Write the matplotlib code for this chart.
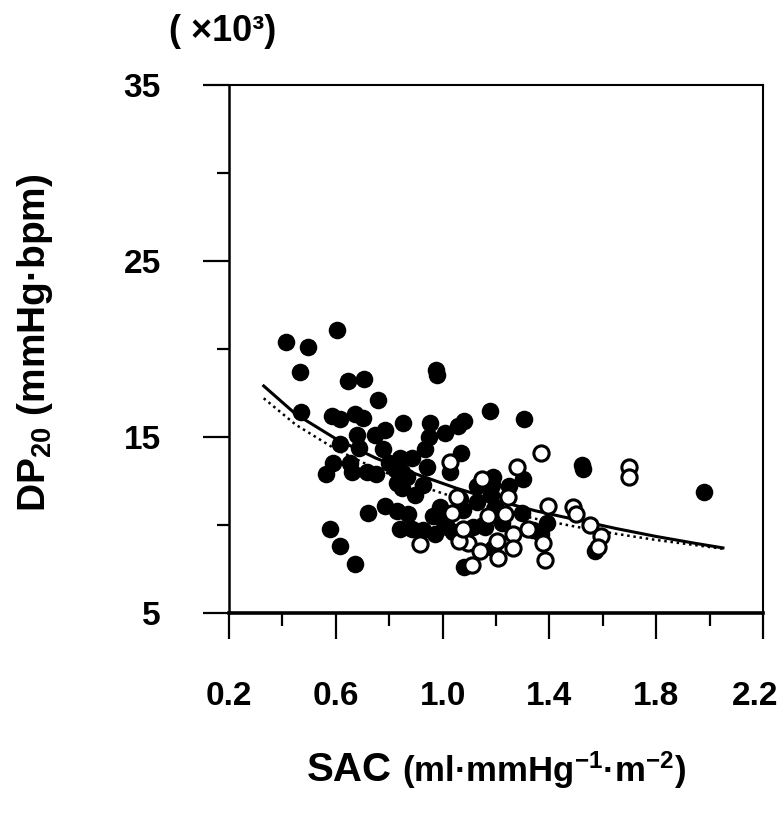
import matplotlib
matplotlib.use('Agg')
from matplotlib import pyplot as plt
from matplotlib import transforms
import numpy as np

# filled circles
sac_filled = [0.413, 0.496, 0.604, 0.466, 0.646, 0.706, 0.975, 0.98, 0.758, 1.178,
              0.47, 0.586, 0.616, 0.672, 0.70, 0.852, 0.953, 0.784, 0.747, 1.009,
              1.058, 1.08, 0.679, 0.949, 0.616, 0.687, 0.777, 0.934, 0.84, 0.885,
              1.069, 0.59, 0.563, 0.653, 0.66, 0.717, 0.75, 0.80, 0.848, 0.866,
              0.94, 1.028, 0.83, 0.848, 0.897, 0.926, 0.72, 0.784, 0.83, 0.87,
              0.84, 0.885, 0.926, 0.964, 0.99, 1.016, 0.578, 0.616, 0.672, 1.08,
              1.159, 1.189, 1.305, 1.30, 1.19, 1.185, 1.13, 1.25, 1.065, 1.13,
              1.18, 1.077, 1.195, 1.297, 1.222, 1.15, 1.34, 1.39, 1.37, 1.114,
              1.04, 1.522, 1.525, 1.98, 1.571, 0.822, 1.0, 0.97]
dp_filled = [20.4, 20.1, 21.1, 18.7, 18.2, 18.3, 18.8, 18.5, 17.1, 16.5,
             16.4, 16.2, 16.0, 16.3, 16.1, 15.8, 15.8, 15.4, 15.1, 15.2,
             15.6, 15.9, 15.1, 15.0, 14.6, 14.4, 14.3, 14.3, 13.8, 13.8,
             14.1, 13.5, 12.9, 13.5, 13.0, 13.0, 12.9, 13.5, 13.0, 12.7,
             13.3, 13.0, 12.4, 12.1, 11.7, 12.3, 10.7, 11.1, 10.8, 10.6,
             9.8, 9.8, 9.7, 10.5, 11.0, 9.9, 9.8, 8.8, 7.8, 7.6,
             9.9, 8.7, 16.0, 12.6, 12.7, 12.3, 12.2, 12.2, 11.5, 11.3,
             11.7, 10.85, 11.0, 10.7, 10.1, 10.0, 9.7, 10.1, 9.5, 9.9,
             9.6, 13.4, 13.2, 11.9, 8.5, 13.2, 10.3, 9.5]

# open circles
sac_open = [1.028, 1.147, 1.37, 1.28, 1.245, 1.054, 1.035, 1.395, 1.49, 1.50,
            1.235, 1.264, 1.32, 1.08, 1.096, 1.06, 1.376, 1.204, 1.264, 1.14,
            1.207, 1.384, 1.11, 0.915, 1.552, 1.593, 1.582, 1.70, 1.70, 1.17,
            1.076]
dp_open = [13.6, 12.6, 14.1, 13.3, 11.6, 11.6, 10.7, 11.1, 11.0, 10.6,
           10.6, 9.5, 9.8, 9.6, 9.0, 9.1, 9.0, 9.1, 8.7, 8.5,
           8.1, 8.0, 7.7, 8.9, 10.0, 9.4, 8.75, 13.3, 12.7, 10.5,
           9.8]

# fitted curves
fit_x = [0.33, 0.45, 0.6, 0.75, 0.9, 1.05, 1.2, 1.35, 1.5, 1.65, 1.8, 1.95, 2.05]
fit_solid = [17.9, 16.3, 14.9, 13.8, 12.9, 12.1, 11.4, 10.8, 10.3, 9.8, 9.35, 8.95, 8.7]
fit_dotted = [17.2, 15.7, 14.3, 13.2, 12.3, 11.55, 10.9, 10.35, 9.9, 9.5, 9.15, 8.85, 8.65]

xticks = [0.2, 0.6, 1.0, 1.4, 1.8, 2.2]
xminor = [0.4, 0.8, 1.2, 1.6, 2.0]
yticks = [5, 15, 25, 35]
yminor = [10, 20, 30]

plt.rcParams['font.family'] = ['Liberation Sans', 'DejaVu Sans']
plt.rcParams['font.weight'] = 'bold'
plt.rcParams['mathtext.fontset'] = 'custom'
plt.rcParams['mathtext.rm'] = 'Liberation Sans:bold'
plt.rcParams['mathtext.bf'] = 'Liberation Sans:bold'
plt.rcParams['mathtext.default'] = 'bf'

fig = plt.figure(figsize=(7.84, 8.14), dpi=100)
ax = fig.add_axes([0.2921, 0.2469, 0.6811, 0.6487])

ax.plot(fit_x, fit_dotted, color='k', linestyle=(0, (1, 1.5)), linewidth=1.8, zorder=2)
ax.plot(fit_x, fit_solid, color='k', linewidth=2.2, zorder=2)
ax.scatter(sac_filled, dp_filled, s=160, c='k', edgecolors='k', linewidths=0, zorder=3)
ax.scatter(sac_open, dp_open, s=120, facecolors='white', edgecolors='k', linewidths=2.2, zorder=4)

ax.set_xlim(0.2, 2.2)
ax.set_ylim(5, 35)
ax.set_xticks(xticks)
ax.set_xticks(xminor, minor=True)
ax.set_yticks(yticks)
ax.set_yticks(yminor, minor=True)
ax.set_xticklabels(['0.2', '0.6', '1.0', '1.4', '1.8', '2.2'])
ax.tick_params(axis='both', which='major', direction='out', length=19, width=1.6,
               labelsize=24, pad=30)
ax.tick_params(axis='both', which='minor', direction='out', length=9, width=1.6)
ax.tick_params(top=False, right=False)

# last x label sits a little left so it stays inside the figure
last = ax.get_xticklabels()[-1]
last.set_transform(last.get_transform() + transforms.ScaledTranslation(-8 / 100, 0, fig.dpi_scale_trans))

ax.spines['bottom'].set_linewidth(2.6)
ax.spines['left'].set_linewidth(1.8)
ax.spines['top'].set_linewidth(1.5)
ax.spines['right'].set_linewidth(1.5)

fig.text(0.284, 0.9607, '( \u00d710\u00b3)', ha='center', va='center', fontsize=26, fontweight='bold')
fig.text(0.045, 0.5786, r'DP$_{20}$ (mmHg·bpm)', rotation=90, ha='center', va='center',
         fontsize=28, fontweight='bold')
fig.text(392 / 784, 0.040, 'SAC', ha='right', va='baseline', fontsize=29, fontweight='bold')
fig.text(402 / 784, 0.040, r'(ml·mmHg$^{-1}$·m$^{-2}$)', ha='left', va='baseline',
         fontsize=25, fontweight='bold')

fig.savefig('out.png', dpi=100)
